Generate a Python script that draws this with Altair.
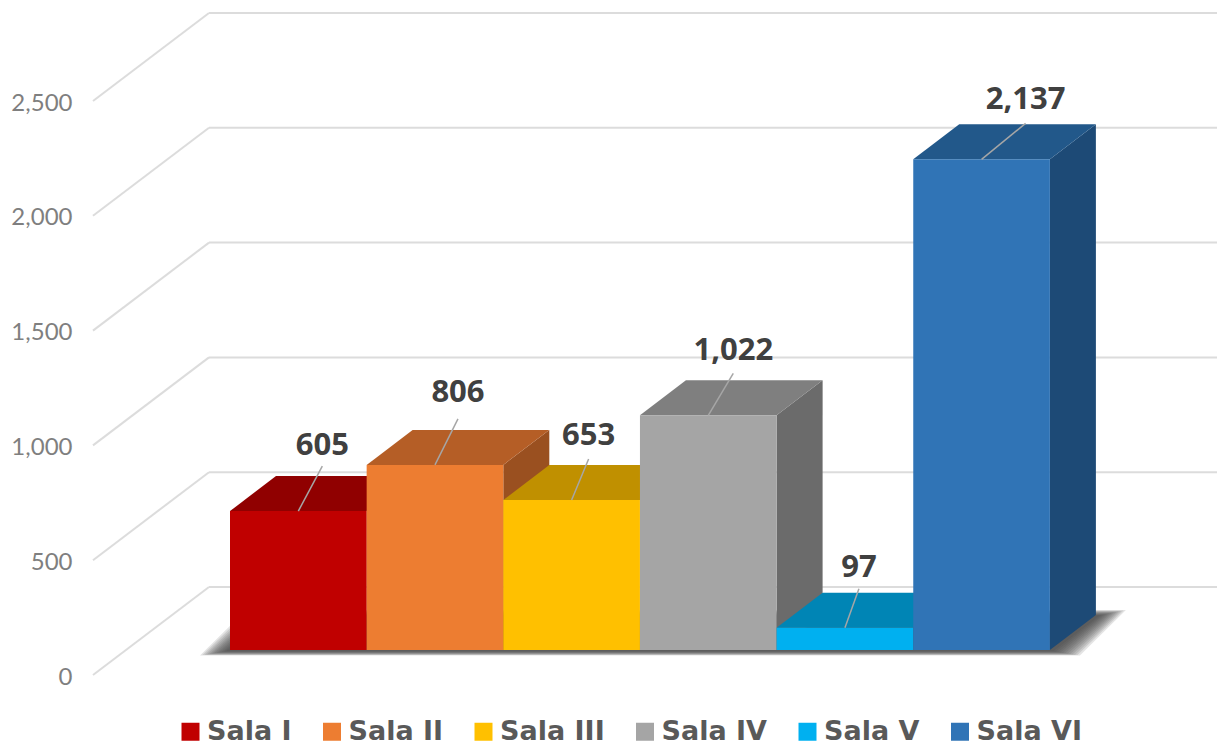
import altair as alt
import pandas as pd

# ---- data
salas = ["Sala I", "Sala II", "Sala III", "Sala IV", "Sala V", "Sala VI"]
visitas = [605, 806, 653, 1022, 97, 2137]
ticks = [0, 500, 1000, 1500, 2000, 2500]

front_colors = ["#c00000", "#ed7d31", "#ffc000", "#a5a5a5", "#00b0f0", "#3074b6"]
top_colors = ["#900000", "#b55e26", "#c09000", "#7f7f7f", "#0085b5", "#22588a"]
side_colors = ["#900000", "#9a5020", "#a07800", "#6b6b6b", "#006f98", "#1d4a76"]

# ---- 3-D projection expressed in scale units
PX_Y = 0.2296        # pixels per value unit
SLOT = 136.65        # pixels per x unit
BASE = 25 / PX_Y     # front floor above the axis zero
DEPTH_X = 46 / SLOT
DEPTH_Y = 35 / PX_Y
WALL_X = 116 / SLOT
WALL_Y = 88 / PX_Y
X0 = (93 - 230) / SLOT
X1 = (1217 - 230) / SLOT
leader_dx = [24, 23, 17, 25, 14, 44]
leader_dy = [45, 46, 41, 42, 39, 36]
label_gap = [20, 26, 23, 22, 21, 23]

xs = alt.Scale(domain=[X0, X1], nice=False, zero=False)
ys = alt.Scale(domain=[(675 - 745) / PX_Y, (675 - 8) / PX_Y], nice=False, zero=False)
y_axis = alt.Axis(
    values=ticks, labelExpr="format(datum.value, ',')", domain=False, ticks=False,
    grid=False, title=None, labelOffset=2,
    labelFontSize=24, labelColor="#7f7f7f", labelFont="Lato", labelPadding=21)
X = lambda f: alt.X(f, type="quantitative", scale=xs, axis=None)
Y = lambda f: alt.Y(f, type="quantitative", scale=ys, axis=y_axis)

layers = []

grid = pd.DataFrame({"t": ticks})
grid["xa"] = X0 + WALL_X
grid["xb"] = X1
grid["xf"] = X0
grid["yb"] = grid["t"] + WALL_Y

# back wall grid and side wall diagonals
layers.append(
    alt.Chart(grid).mark_rule(color="#dcdcdc", strokeWidth=2).encode(
        x=X("xa"), x2="xb", y=Y("yb"))
)
layers.append(
    alt.Chart(grid).mark_rule(color="#dcdcdc", strokeWidth=2).encode(
        x=X("xf"), x2="xa", y=Y("t"), y2="yb")
)

# floor shadow: nested translucent parallelograms imitate its blur
n = len(salas)
for t in range(12):
    reach = (30 - 2.4 * t) / SLOT
    shadow = pd.DataFrame({
        "y": [BASE - (5.5 - 0.4 * t) / PX_Y, BASE + (40 - 0.5 * t) / PX_Y],
        "a": [-reach, -reach + 46 / SLOT],
        "b": [n + reach, n + reach + 46 / SLOT],
    })
    layers.append(
        alt.Chart(shadow).mark_area(orient="horizontal", color="#404040", opacity=0.14).encode(
            y=Y("y"), x=X("a"), x2="b")
    )

# bars, painted from left to right: side, top, front
color = alt.Color("sala:N", scale=alt.Scale(domain=salas, range=front_colors), legend=alt.Legend(
    orient="none", legendX=84, legendY=710, direction="horizontal", columns=6, title=None,
    symbolType="square", symbolSize=324, symbolStrokeWidth=0, symbolOpacity=1,
    labelFont="DejaVu Sans", labelFontSize=27, labelFontWeight="bold", labelColor="#595959",
    columnPadding=26.5, labelOffset=3, labelLimit=300, rowPadding=0))

for i, (sala, v) in enumerate(zip(salas, visitas)):
    top = BASE + v
    side = pd.DataFrame({
        "x": [i + 1, i + 1 + DEPTH_X],
        "lo": [BASE, BASE + DEPTH_Y],
        "hi": [top, top + DEPTH_Y],
    })
    layers.append(
        alt.Chart(side).mark_area(color=side_colors[i]).encode(
            x=X("x"), y=Y("lo"), y2="hi")
    )
    lid = pd.DataFrame({
        "y": [top, top + DEPTH_Y],
        "a": [i, i + DEPTH_X],
        "b": [i + 1, i + 1 + DEPTH_X],
    })
    layers.append(
        alt.Chart(lid).mark_area(orient="horizontal", color=top_colors[i]).encode(
            y=Y("y"), x=X("a"), x2="b")
    )
    face = pd.DataFrame({"sala": [sala], "a": [i], "b": [i + 1], "lo": [BASE], "hi": [top]})
    layers.append(
        alt.Chart(face).mark_bar().encode(
            x=X("a"), x2="b", y=Y("lo"), y2="hi", color=color)
    )

# leader lines and value labels
labels = pd.DataFrame({
    "value": visitas,
    "xa": [i + 0.5 for i in range(n)],
    "ya": [BASE + v for v in visitas],
})
labels["xb"] = labels["xa"] + [d / SLOT for d in leader_dx]
labels["yb"] = labels["ya"] + [d / PX_Y for d in leader_dy]
labels["yt"] = labels["yb"] + [d / PX_Y for d in label_gap]
layers.append(
    alt.Chart(labels).mark_rule(color="#a6a6a6", strokeWidth=1.5).encode(
        x=X("xa"), x2="xb", y=Y("ya"), y2="yb")
)
layers.append(
    alt.Chart(labels).mark_text(
        font="Open Sans", fontSize=31, fontWeight="bold", color="#404040",
        align="center", baseline="middle",
    ).encode(x=X("xb"), y=Y("yt"), text=alt.Text("value:Q", format=","))
)

chart = alt.layer(*layers).properties(
    width=1124, height=737, autosize="none",
    padding={"left": 85, "top": 0, "right": 0, "bottom": 0},
    background="white",
).configure_view(stroke=None)

chart.save("out.html", embed_options={"renderer": "svg", "actions": False})
